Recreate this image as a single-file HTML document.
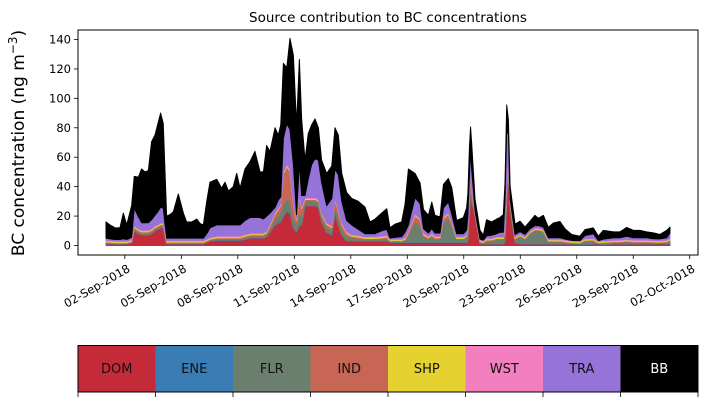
<!DOCTYPE html>
<html><head><meta charset="utf-8">
<style>
body{margin:0;background:#fff;}
svg{display:block;font-family:"DejaVu Sans","Liberation Sans",sans-serif;}
</style></head>
<body>
<svg id="chart" width="707" height="402" viewBox="0 0 707 402">
<text x="388" y="22" text-anchor="middle" font-size="13.5">Source contribution to BC concentrations</text>
<g id="plot"></g>
<text transform="translate(24,143) rotate(-90)" text-anchor="middle" font-size="17">BC concentration (ng m<tspan dy="-7" font-size="12">−3</tspan><tspan dy="7">)</tspan></text>
<g id="legend"></g>
</svg>
<script>
const days=[0,0.21,0.48,0.74,0.92,1.10,1.36,1.50,1.72,1.89,2.07,2.25,2.42,2.60,2.78,2.90,3.04,3.22,3.40,3.58,3.84,4.11,4.28,4.55,4.82,4.99,5.17,5.35,5.52,5.88,6.14,6.32,6.50,6.76,6.94,7.12,7.38,7.65,7.91,8.18,8.36,8.53,8.71,8.98,9.15,9.28,9.42,9.60,9.77,9.95,10.12,10.27,10.39,10.57,10.74,10.92,11.10,11.28,11.45,11.72,11.99,12.16,12.34,12.52,12.78,13.05,13.40,13.76,14.02,14.29,14.64,14.91,15.08,15.35,15.70,15.88,16.06,16.41,16.68,16.86,17.12,17.30,17.47,17.74,17.92,18.18,18.36,18.62,18.98,19.15,19.22,19.30,19.36,19.42,19.60,19.86,20.04,20.21,20.48,20.75,20.92,21.10,21.19,21.28,21.37,21.46,21.72,21.99,22.25,22.52,22.78,22.96,23.23,23.49,23.76,24.11,24.38,24.73,25.17,25.44,25.88,26.15,26.41,26.95,27.30,27.65,28.01,28.36,28.71,29.07,29.42,29.78,29.95];
const DOM=[1,1,1,1,1,1,1.5,10,8,7,7,7,8,10,11,12,12,1,1,1,1,1,1,1,1,1,1,2,3,3.5,3.5,3.5,3.5,3.5,3.5,3.5,4,5,5,5,5,6,9,14,15,16,20,23,22,12,9,14,14,27,27,27,27,26,16,9,7,22,14,7,3,3,3,3,3,3,3,3,2,2,2,2,2,2,2,2,2,2,2,2,2,2,2,2,2,2,3,20,38,30,20,1,1,1,1,1,1,1,2,28,50,25,2,1,1,1,1,1,1,1,1,1,1,1,0.8,0.8,1,1,0.5,1,1,1,1,1,1,1,1,1,1,1,1];
const ENE=[0.3,0.3,0.3,0.3,0.3,0.3,0.3,0.3,0.3,0.3,0.3,0.3,0.3,0.3,0.3,0.3,0.3,0.3,0.3,0.3,0.3,0.3,0.3,0.3,0.3,0.3,0.3,0.3,0.3,0.3,0.3,0.3,0.3,0.3,0.3,0.3,0.3,0.3,0.3,0.3,0.3,0.3,0.3,0.3,0.3,0.3,0.5,0.5,0.5,0.4,0.3,0.4,0.3,0.3,0.3,0.3,0.3,0.3,0.3,0.3,0.3,0.3,0.3,0.3,0.3,0.3,0.3,0.3,0.3,0.3,0.3,0.3,0.3,0.3,0.3,0.3,0.3,0.3,0.3,0.3,0.3,0.3,0.3,0.3,0.3,0.3,0.3,0.3,0.3,0.3,0.3,0.3,0.3,0.3,0.3,0.3,0.3,0.3,0.3,0.3,0.3,0.3,0.3,0.3,0.3,0.3,0.3,0.3,0.3,0.3,0.3,0.3,0.3,0.3,0.3,0.3,0.3,0.3,0.3,0.3,0.3,0.3,0.3,0.3,0.3,0.3,0.3,0.3,0.3,0.3,0.3,0.3,0.3];
const FLR=[0.5,0.5,0.3,0.3,0.3,0.3,0.5,1,1,1,1,1,1,1,1,1,1,0.5,0.5,0.5,0.5,0.5,0.5,0.5,0.5,0.5,0.5,0.5,0.5,0.8,0.8,0.8,0.8,0.8,0.8,0.8,1,1,1,1,1,1.5,2,4,5,6,8,8,8,6,5,8,6,3,3,3,3,3,3,3,3,5,5,4,3,2,1.5,1,1,1,1,1.5,0.5,0.5,0.5,1,5,14,12,4,2,4,2,2,14,16,11,2,2,3,5,6,5,4,1,1,0.5,2,2,3,3,3,5,8,5,3,2,5,3,7,9,9,8,1.5,1.5,1.5,1,0.5,0.5,2,2,0.3,1,1,1,1.5,1,1,1,0.8,0.7,1,2];
const IND=[0.5,0.5,0.3,0.3,0.3,0.3,0.5,1,1,1,1,1,1,1,1,1,1,0.5,0.5,0.5,0.5,0.5,0.5,0.5,0.5,0.5,0.5,0.5,0.5,0.7,0.7,0.7,0.7,0.7,0.7,0.7,1,1,1,1,1,1,2,3,4,5,20,22,20,10,3,10,5,1,1,1,1,1,2,2,2,4,4,3,2,1,1,0.5,0.5,0.5,1,1,0.5,0.5,0.5,1,2,4,3,1,1,1,1,1,2,3,2,0.5,0.5,1,3,6,5,4,0.3,0.3,0.3,0.5,0.5,0.5,0.5,0.5,4,8,4,0.5,0.5,0.5,0.5,0.5,0.5,0.5,0.5,0.3,0.3,0.3,0.3,0.2,0.2,0.5,0.5,0.2,0.3,0.3,0.3,0.3,0.3,0.3,0.3,0.3,0.3,0.3,0.5];
const SHP=[0.7,0.7,0.7,0.7,0.7,0.7,0.7,0.7,0.7,0.7,0.7,0.7,0.7,0.7,0.7,0.7,0.7,0.7,0.7,0.7,0.7,0.7,0.7,0.7,0.7,0.7,0.7,0.7,0.7,0.7,0.7,0.7,0.7,0.7,0.7,0.7,0.7,0.7,0.7,0.7,0.7,0.7,0.7,0.7,0.7,0.7,0.8,0.8,0.8,0.7,0.7,0.7,0.7,0.7,0.7,0.7,0.7,0.7,0.7,0.7,0.7,0.7,0.7,0.7,0.7,0.7,0.7,0.7,0.7,0.7,0.7,0.7,0.7,0.7,0.7,0.7,0.7,0.7,0.7,0.7,0.7,0.7,0.7,0.7,0.7,0.7,0.7,0.7,0.7,0.7,0.7,0.7,0.7,0.7,0.7,0.7,0.7,0.7,0.7,0.7,0.7,0.7,0.7,0.7,0.7,0.7,0.7,0.7,0.7,0.7,0.7,0.7,0.7,0.7,0.7,0.7,0.7,0.7,0.7,0.7,0.7,0.7,0.7,0.7,0.7,0.7,0.7,0.7,0.7,0.7,0.7,0.7,0.7];
const WST=[0.5,0.5,0.5,0.5,0.5,0.5,0.5,0.5,0.5,0.5,0.5,0.5,0.5,0.5,0.5,0.5,0.5,0.5,0.5,0.5,0.5,0.5,0.5,0.5,0.5,0.5,0.5,0.5,0.5,0.5,0.5,0.5,0.5,0.5,0.5,0.5,0.5,0.5,0.5,0.5,0.5,0.5,0.5,0.5,0.5,0.5,1,1,1,0.8,0.5,0.8,0.5,0.5,0.5,0.5,0.5,0.5,0.5,0.5,0.5,0.5,0.5,0.5,0.5,0.5,0.5,0.5,0.5,0.5,0.5,0.5,0.5,0.5,0.5,0.5,0.5,0.5,0.5,0.5,0.5,0.5,0.5,0.5,0.5,0.5,0.5,0.5,0.5,0.5,0.5,0.5,0.5,0.5,0.5,0.5,0.5,0.5,0.5,0.5,0.5,0.5,0.5,0.5,0.5,0.5,0.5,0.5,0.5,0.5,0.5,0.5,0.5,0.5,0.5,0.5,0.5,0.5,0.5,0.5,0.5,0.5,0.5,0.5,0.5,0.5,0.5,0.5,0.5,0.5,0.5,0.5,0.5];
const TRA=[1.5,1,1,1,1.5,1,1.5,12,8,5,5,5,6,7,9,10.5,10,1.5,1.5,1.5,1.5,1.5,1.5,1.5,1.5,1.5,1.5,3.5,6.5,7.5,7.5,7.5,7.5,7.5,7.5,7.5,9.5,10.5,10.5,10.5,9.5,10,7.5,3.5,5.5,4.5,22.5,27.5,26.5,25.5,2.5,22.5,7.5,1.5,12.5,22.5,26.5,26.5,20.5,11.5,18.5,19.5,23.5,14.5,7.5,6.5,4,2,2,2,3.5,4,0.5,1,1.5,3.5,3.5,11,10,3,2,3,2,2,6,7,5,2,2,3,8,15,14,12,0.5,0.5,0.3,1.5,2,2,3,3,18,33,15,1.5,1.5,1.5,1.5,1.5,1.5,1.5,1.5,1,1,1,0.5,0.3,0.3,2,3,0.3,1,1.5,1.5,2,1.5,1.5,1.5,1,1,1.5,3.5];
const BB=[11,9.5,7.9,7.9,17.4,9.9,21.5,21.5,27,36.5,34.5,35.5,53,54.5,60.5,64,57.5,15,16,18,30,17,11,11,13,10,9,22,31,31,25,29,23,26,35,25,35,38,45,31,32,48,42,54,44,49,51,38,62,74,61,70,52,24,31,27,27,22,15,22,22,28,27,19,19,18,19,18,8,10,12,14,7,9,10,19,38,16.5,14,13,12,18,12,11,16,16,18,9,11,15,15,18,17,18,8,6,3.5,11,9,10,10,12,12,17,10,9,7,7,5,5,7,5,8,7,10,11,7,4,3,4,4,3,6,4,4,6,5,5,4,4,3,5,4];
const series=[DOM,ENE,FLR,IND,SHP,WST,TRA,BB];
const names=["DOM","ENE","FLR","IND","SHP","WST","TRA","BB"];
const colors=["#c52a38","#3a7db4","#6b7f6f","#c86656","#e5d130","#f37fc0","#9673d8","#000000"];
const yTicks=[0,20,40,60,80,100,120,140];
const xTickDays=[1,4,7,10,13,16,19,22,25,28,31];
const xTickLabels=["02-Sep-2018","05-Sep-2018","08-Sep-2018","11-Sep-2018","14-Sep-2018","17-Sep-2018","20-Sep-2018","23-Sep-2018","26-Sep-2018","29-Sep-2018","02-Oct-2018"];

const NS="http://www.w3.org/2000/svg";
const L=78,R=698,T=30,B=255;
function xs(d){return 106+d*18.83;}
function ys(v){return 245.5-v*1.4714;}
function mk(tag,attrs,parent){const e=document.createElementNS(NS,tag);for(const k in attrs)e.setAttribute(k,attrs[k]);parent.appendChild(e);return e;}
const plot=document.getElementById('plot');
let base=days.map(()=>0);
series.forEach((s,i)=>{
  const top=base.map((b,j)=>b+(s[j]||0));
  let d="M"+days.map((t,j)=>xs(t).toFixed(2)+","+ys(top[j]).toFixed(2)).join("L");
  for(let j=days.length-1;j>=0;j--)d+="L"+xs(days[j]).toFixed(2)+","+ys(base[j]).toFixed(2);
  d+="Z";
  const p=mk('path',{d:d,fill:colors[i],stroke:colors[i],'stroke-width':1,'stroke-linejoin':'round'},plot);
  
  
  base=top;
});
const frame=mk('rect',{x:L,y:T,width:R-L,height:B-T,fill:'none',stroke:'#000','stroke-width':1},plot);


yTicks.forEach(v=>{
  const y=ys(v);
  mk('line',{x1:L-4,x2:L,y1:y,y2:y,stroke:'#000','stroke-width':0.8},plot);
  const t=mk('text',{x:L-7,y:y+4,'text-anchor':'end','font-size':11.5},plot);
  t.textContent=v;
  
  
});
xTickDays.forEach((d,i)=>{
  const x=xs(d);
  mk('line',{x1:x,x2:x,y1:B,y2:B+4,stroke:'#000','stroke-width':0.8},plot);
  const t=mk('text',{transform:`translate(${x+2},${B+9}) rotate(-30)`,'text-anchor':'end','font-size':11.5,dy:'0.7em'},plot);
  t.textContent=xTickLabels[i];
  
  
});
const leg=document.getElementById('legend');
const cw=(R-L)/names.length;
names.forEach((n,i)=>{
  const r=mk('rect',{x:L+i*cw,y:345.5,width:cw+0.3,height:46.5,fill:colors[i]},leg);
  
  
  const t=mk('text',{x:L+i*cw+cw/2,y:373,'text-anchor':'middle','font-size':13,fill:n==="BB"?"#fff":"#111"},leg);
  t.textContent=n;
  
  
});
for(let i=0;i<=names.length;i++){mk('line',{x1:L+i*cw,x2:L+i*cw,y1:392,y2:397,stroke:'#000','stroke-width':0.8},leg);}
mk('rect',{x:L,y:345.5,width:R-L,height:46.5,fill:'none',stroke:'#000','stroke-width':1},leg);
</script>
</body></html>
